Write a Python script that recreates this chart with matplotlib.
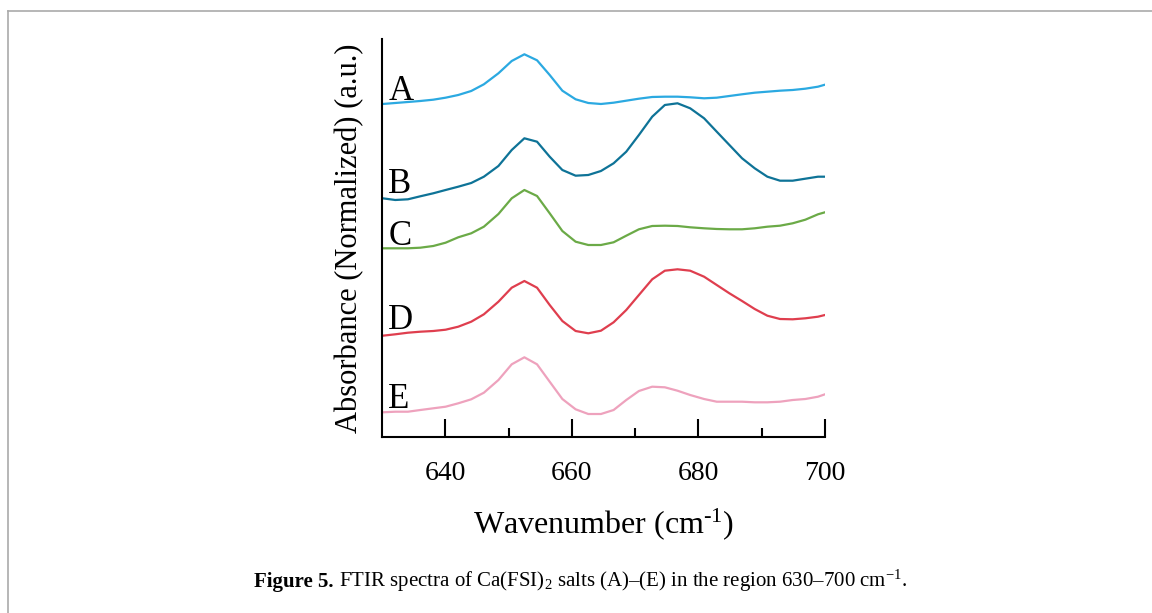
import numpy as np
import matplotlib.pyplot as plt
from matplotlib.lines import Line2D
from matplotlib.ticker import FixedLocator

plt.rcParams['font.family'] = ['Liberation Serif', 'DejaVu Serif']
plt.rcParams['mathtext.fontset'] = 'custom'
plt.rcParams['mathtext.rm'] = 'Liberation Serif'
plt.rcParams['mathtext.it'] = 'Liberation Serif:italic'

# wavenumber of each sampled point (cm-1)
wavenumber = [630.1, 632.1, 634.1, 636.05, 638.1, 640.05, 642.05, 644.1, 646.1, 648.4,
              650.5, 652.5, 654.5, 656.5, 658.5, 660.6, 662.6, 664.6, 666.6, 668.6,
              670.6, 672.7, 674.7, 676.7, 678.7, 680.9, 682.9, 684.9, 686.9, 688.9,
              690.9, 692.9, 694.9, 696.9, 698.9, 700.0]

# absorbance (normalized, offset stacked, a.u. x100)
spec_A = [333, 334, 335, 336, 337.3, 339.3, 342, 346, 352.7, 363.7, 376, 382.7,
          376.7, 362, 346.3, 337.7, 334, 333, 334.3, 336.3, 338.3, 340, 340.3, 340.3,
          339.7, 338.7, 339.3, 341, 342.7, 344.3, 345.3, 346.3, 347, 348.3, 350.3, 352.3]
spec_B = [238.7, 237, 237.7, 240.7, 243.7, 247, 250.3, 254, 260.3, 271, 287, 298.7,
          295.3, 280.3, 267, 261.3, 262, 266, 273.7, 285.3, 302, 320.3, 332, 333.7,
          328.7, 318.7, 305.3, 292, 278.7, 268.7, 260.3, 256.3, 256.3, 258.3, 260.3, 260.3]
spec_C = [188.7, 188.7, 188.7, 189.3, 191, 194.3, 199.7, 203.7, 210.3, 223, 238.7, 247,
          241, 223.7, 206, 195.3, 192, 192, 194.7, 201.3, 207.7, 211, 211.3, 211,
          209.7, 208.7, 208, 207.7, 207.7, 208.7, 210.3, 211.3, 213.7, 217.3, 222.7, 224.7]
spec_D = [101.3, 102.7, 104.3, 105.3, 106, 107.3, 110.3, 115.3, 122.7, 135.3, 149.3, 156,
          149.3, 132, 116, 106, 103.7, 106.3, 114.7, 127, 142, 157.7, 166.3, 167.7,
          166.3, 160.3, 152, 143.7, 136, 128, 121.3, 118, 117.7, 118.7, 120.3, 122]
spec_E = [24.7, 25.3, 25.3, 27, 28.7, 30.3, 33.7, 37.7, 44.3, 57, 72.7, 79.7,
          72.7, 55.3, 38, 27.7, 23, 23, 27, 37, 46, 50.3, 49.7, 46.3,
          42, 38, 35.3, 35.3, 35.3, 34.7, 34.7, 35.3, 37, 38, 40.3, 42.7]

labels = ['A', 'B', 'C', 'D', 'E']
label_y = [337, 243.7, 192, 108, 29.3]
colors = ['#2BA9E1', '#0E7397', '#6BAA47', '#DF3E4E', '#EEA2BD']
spectra = [spec_A, spec_B, spec_C, spec_D, spec_E]

fig = plt.figure(figsize=(11.52, 6.13), dpi=100)
ax = fig.add_axes([0.3316, 0.2871, 0.3845, 0.6493])

for spec, lab, ly, c in zip(spectra, labels, label_y, colors):
    ax.plot(wavenumber, np.array(spec) / 100, color=c, linewidth=1.6)
    ax.text(631.0, ly / 100, lab, fontsize=25, ha='left', va='baseline')

ax.set_xlim(630, 700)
ax.set_ylim(0, 3.98)
ax.set_yticks([])
ax.xaxis.set_major_locator(FixedLocator([640, 660, 680, 700]))
ax.xaxis.set_minor_locator(FixedLocator([650, 670, 690]))
ax.tick_params(axis='x', which='major', direction='in', length=13, width=1.5,
               pad=17, labelsize=20)
ax.tick_params(axis='x', which='minor', direction='in', length=6.5, width=1.5)
for s in ['top', 'right']:
    ax.spines[s].set_visible(False)
for s in ['left', 'bottom']:
    ax.spines[s].set_linewidth(1.5)

ax.set_xlabel('Wavenumber (cm$^{\\text{-1}}$)', fontsize=23, labelpad=15)
ax.set_ylabel('Absorbance (Normalized) (a.u.)', fontsize=22, labelpad=13)

# page frame
fig.add_artist(Line2D([8 / 1152, 1.0], [1 - 11 / 613] * 2, transform=fig.transFigure,
                      color='#aaaaaa', linewidth=1.2))
fig.add_artist(Line2D([8 / 1152] * 2, [0.0, 1 - 11 / 613], transform=fig.transFigure,
                      color='#aaaaaa', linewidth=1.2))

# caption: bold lead-in followed by regular text on the same baseline
cap_y = 1 - 587 / 613
t1 = fig.text(254 / 1152, cap_y, 'Figure 5.', fontsize=15,
              fontweight='bold', ha='left', va='baseline')
fig.canvas.draw()
bb = t1.get_window_extent(fig.canvas.get_renderer())
fig.text(bb.x1 / fig.bbox.width, cap_y,
         ' FTIR spectra of Ca(FSI)$_2$ salts (A)\u2013(E) in the region '
         '630\u2013700 cm$^{-1}$.', fontsize=15, ha='left', va='baseline')

fig.savefig('out.png', dpi=100)
